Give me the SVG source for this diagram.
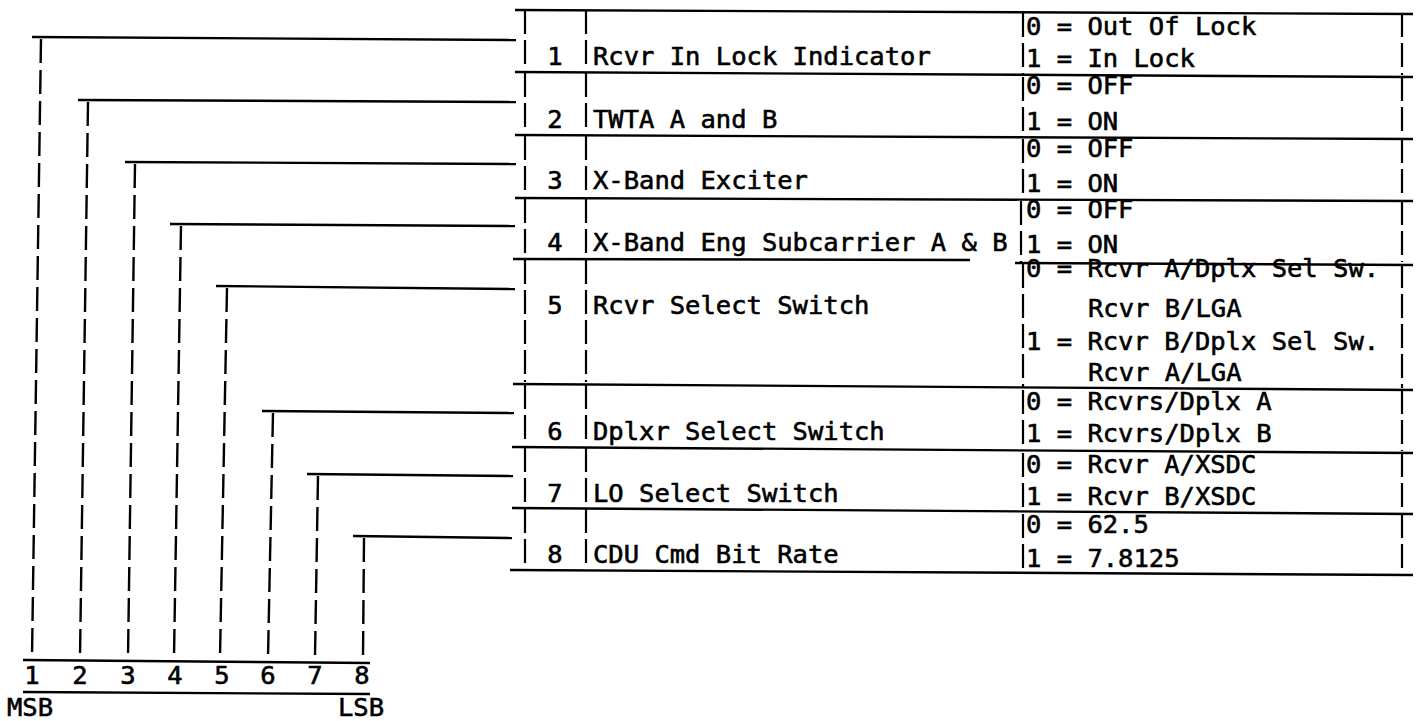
<svg xmlns="http://www.w3.org/2000/svg" width="1416" height="721" viewBox="0 0 1416 721">
<style>
  .t { font-family: "DejaVu Sans Mono", "Liberation Mono", monospace; font-size: 25.5px; fill: #000; stroke: #000; stroke-width: 0.6; }
  .n { text-anchor: middle; }
  .ln { stroke: #000; stroke-width: 2.4; fill: none; }
  .ds { stroke: #000; stroke-width: 2.2; fill: none; stroke-dasharray: 24 6; }
  .bit { stroke: #000; stroke-width: 2.4; fill: none; stroke-dasharray: 24 7; }
</style>
<rect width="1416" height="721" fill="#fff"/>

<g id="connectors">
  <path class="ln" d="M32 37 L516 40"/>
  <path class="bit" d="M41 39 L32 657"/>
  <path class="ln" d="M78 100 L516 102"/>
  <path class="bit" d="M88 102 L80 657"/>
  <path class="ln" d="M125 162 L516 164"/>
  <path class="bit" d="M135 164 L128 657"/>
  <path class="ln" d="M170 224 L515 226"/>
  <path class="bit" d="M181 226 L174 657"/>
  <path class="ln" d="M216 286 L515 289"/>
  <path class="bit" d="M227 288 L220 657"/>
  <path class="ln" d="M262 411 L514 413"/>
  <path class="bit" d="M273 413 L268 657"/>
  <path class="ln" d="M307 474 L513 476"/>
  <path class="bit" d="M318 476 L315 657"/>
  <path class="ln" d="M353 536 L512 538"/>
  <path class="bit" d="M364 538 L363 657"/>
</g>

<g id="register">
  <path class="ln" d="M23 660 L370 663"/>
  <path class="ln" d="M23 692 L370 694"/>
  <text class="t n" x="32" y="684">1</text>
  <text class="t n" x="80" y="684">2</text>
  <text class="t n" x="128" y="684">3</text>
  <text class="t n" x="175" y="684">4</text>
  <text class="t n" x="222" y="684">5</text>
  <text class="t n" x="268" y="684">6</text>
  <text class="t n" x="315" y="684">7</text>
  <text class="t n" x="362" y="684">8</text>
  <text class="t" x="7" y="716">MSB</text>
  <text class="t" x="338" y="716">LSB</text>
</g>

<g id="table-lines">
  <path class="ln" d="M515 10 L1413 14"/>
  <path class="ln" d="M515 72 L1413 77"/>
  <path class="ln" d="M515 135 L1413 139"/>
  <path class="ln" d="M515 198 L1413 201"/>
  <path class="ln" d="M513 259 L970 260"/>
  <path class="ln" d="M1015 263 L1413 265"/>
  <path class="ln" d="M513 384 L1413 390"/>
  <path class="ln" d="M512 447 L1413 453"/>
  <path class="ln" d="M512 508 L1413 514"/>
  <path class="ln" d="M510 570 L1413 575"/>
</g>

<g id="row1">
  <path class="ds" d="M525 10 V70 M586 10 V70 M1023 13 V75 M1402 13 V75"/>
  <text class="t n" x="555" y="65">1</text>
  <text class="t" x="593" y="65">Rcvr In Lock Indicator</text>
  <text class="t" x="1026" y="35">0 = Out Of Lock</text>
  <text class="t" x="1026" y="67">1 = In Lock</text>
</g>
<g id="row2">
  <path class="ds" d="M525 73 V133 M586 73 V133 M1023 77 V137 M1402 77 V137"/>
  <text class="t n" x="555" y="128">2</text>
  <text class="t" x="593" y="128">TWTA A and B</text>
  <text class="t" x="1026" y="94">0 = OFF</text>
  <text class="t" x="1026" y="130">1 = ON</text>
</g>
<g id="row3">
  <path class="ds" d="M525 136 V196 M586 136 V196 M1023 139 V199 M1402 139 V199"/>
  <text class="t n" x="555" y="189">3</text>
  <text class="t" x="593" y="189">X-Band Exciter</text>
  <text class="t" x="1026" y="157">0 = OFF</text>
  <text class="t" x="1026" y="192">1 = ON</text>
</g>
<g id="row4">
  <path class="ds" d="M525 199 V258 M586 199 V258 M1021 201 V262 M1402 201 V262"/>
  <text class="t n" x="555" y="251">4</text>
  <text class="t" x="593" y="251">X-Band Eng Subcarrier A &amp; B</text>
  <text class="t" x="1026" y="218">0 = OFF</text>
  <text class="t" x="1026" y="253">1 = ON</text>
</g>
<g id="row5">
  <path class="ds" d="M525 260 V382 M586 260 V382 M1023 264 V388 M1402 264 V388"/>
  <text class="t n" x="555" y="314">5</text>
  <text class="t" x="593" y="314">Rcvr Select Switch</text>
  <text class="t" x="1026" y="277">0 = Rcvr A/Dplx Sel Sw.</text>
  <text class="t" x="1088" y="317">Rcvr B/LGA</text>
  <text class="t" x="1026" y="350">1 = Rcvr B/Dplx Sel Sw.</text>
  <text class="t" x="1088" y="381">Rcvr A/LGA</text>
</g>
<g id="row6">
  <path class="ds" d="M525 385 V445 M586 385 V445 M1023 390 V451 M1402 390 V451"/>
  <text class="t n" x="555" y="440">6</text>
  <text class="t" x="593" y="440">Dplxr Select Switch</text>
  <text class="t" x="1026" y="410">0 = Rcvrs/Dplx A</text>
  <text class="t" x="1026" y="442">1 = Rcvrs/Dplx B</text>
</g>
<g id="row7">
  <path class="ds" d="M525 448 V506 M586 448 V506 M1023 453 V512 M1402 453 V512"/>
  <text class="t n" x="555" y="502">7</text>
  <text class="t" x="593" y="502">LO Select Switch</text>
  <text class="t" x="1026" y="473">0 = Rcvr A/XSDC</text>
  <text class="t" x="1026" y="505">1 = Rcvr B/XSDC</text>
</g>
<g id="row8">
  <path class="ds" d="M525 509 V568 M586 509 V568 M1023 514 V573 M1402 514 V573"/>
  <text class="t n" x="555" y="563">8</text>
  <text class="t" x="593" y="563">CDU Cmd Bit Rate</text>
  <text class="t" x="1026" y="533">0 = 62.5</text>
  <text class="t" x="1026" y="567">1 = 7.8125</text>
</g>
</svg>
